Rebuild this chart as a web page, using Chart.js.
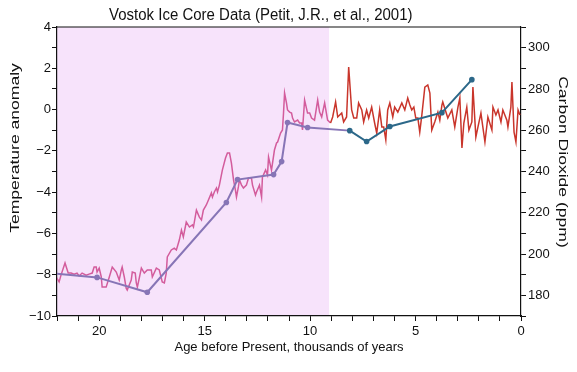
<!DOCTYPE html>
<html>
<head>
<meta charset="utf-8">
<title>Vostok Ice Core Data</title>
<script src="https://cdn.jsdelivr.net/npm/chart.js@4/dist/chart.umd.min.js"></script>
<style>
  html, body { margin: 0; padding: 0; background: #ffffff; }
  canvas { display: block; }
</style>
</head>
<body>
<canvas id="vostokChart" width="577" height="372"></canvas>
<script>
// Temperature anomaly (age in thousands of years, value in degrees)
const tempAge = [
    22.04, 21.90, 21.81, 21.62, 21.47, 21.33, 21.19, 21.05, 20.95, 20.81,
    20.62, 20.48, 20.33, 20.24, 20.14, 20.10, 20.00, 19.90, 19.86, 19.67,
    19.52, 19.38, 19.19, 19.05, 18.95, 18.91, 18.81, 18.72, 18.67, 18.48,
    18.43, 18.29, 18.24, 18.19, 18.00, 17.86, 17.72, 17.53, 17.48, 17.29,
    17.15, 17.01, 16.91, 16.82, 16.77, 16.58, 16.44, 16.34, 16.20, 16.10,
    16.01, 15.87, 15.72, 15.58, 15.53, 15.39, 15.25, 15.15, 15.06, 14.92,
    14.82, 14.68, 14.63, 14.54, 14.44, 14.39, 14.30, 14.16, 14.01, 13.92,
    13.82, 13.73, 13.63, 13.54, 13.49, 13.40, 13.35, 13.25, 13.16, 13.02,
    12.92, 12.78, 12.73, 12.59, 12.54, 12.40, 12.30, 12.26, 12.11, 12.02,
    11.97, 11.83, 11.69, 11.59, 11.54, 11.40, 11.31, 11.26, 11.21, 11.12,
    11.07, 10.97, 10.88, 10.83, 10.74, 10.59, 10.50, 10.40, 10.36, 10.26,
    10.12, 10.02, 9.93, 9.79, 9.64, 9.55, 9.45, 9.31, 9.17, 9.03,
    8.93, 8.79, 8.69, 8.50, 8.41, 8.27, 8.17, 8.03, 7.93, 7.79,
    7.70, 7.55, 7.46, 7.32, 7.22, 7.08, 6.94, 6.84, 6.70, 6.60,
    6.51, 6.41, 6.32, 6.22, 6.08, 5.99, 5.84, 5.65, 5.51, 5.37,
    5.27, 5.18, 5.08, 4.99, 4.89, 4.80, 4.70, 4.56, 4.42, 4.32,
    4.23, 4.09, 3.94, 3.85, 3.75, 3.71, 3.56, 3.47, 3.28, 3.14,
    2.99, 2.90, 2.80, 2.71, 2.57, 2.47, 2.33, 2.28, 2.14, 2.04,
    1.90, 1.81, 1.71, 1.57, 1.38, 1.33, 1.19, 1.09, 0.95, 0.86,
    0.67, 0.62, 0.48, 0.43, 0.33, 0.24, 0.14, 0.05
];
const tempValue = [
    -8.11, -8.35, -8.02, -7.43, -7.92, -7.92, -7.97, -7.92, -8.06, -7.92,
    -8.02, -7.97, -7.92, -7.63, -7.63, -7.87, -7.68, -8.11, -8.60, -8.60,
    -8.11, -7.63, -7.87, -8.26, -7.77, -7.63, -8.11, -8.65, -8.74, -8.26,
    -7.87, -7.92, -8.40, -8.60, -7.68, -7.92, -7.77, -7.77, -8.11, -7.68,
    -7.77, -8.35, -8.40, -7.92, -7.14, -6.80, -6.71, -6.80, -6.32, -5.84,
    -6.17, -5.45, -5.69, -5.59, -5.69, -4.87, -5.21, -5.35, -4.87, -4.62,
    -4.38, -4.04, -4.24, -3.99, -3.80, -3.99, -3.66, -2.93, -2.35, -2.10,
    -2.10, -2.59, -3.41, -3.90, -4.24, -3.75, -3.41, -3.66, -3.80, -3.66,
    -3.32, -3.32, -3.66, -4.14, -3.99, -3.66, -4.24, -3.27, -2.93, -3.17,
    -2.30, -2.93, -1.96, -1.62, -1.57, -1.14, -0.99, -0.17, 0.80, 0.32,
    -0.02, -0.12, -0.17, -0.41, -0.60, -0.51, -0.65, -0.65, -0.99, 0.46,
    -0.17, -0.17, -0.41, -0.51, 0.46, -0.12, -0.36, 0.32, -0.51, -0.65,
    -0.36, 0.37, -0.36, -0.17, -0.60, -0.36, 2.06, -0.02, -0.41, -0.41,
    0.32, -0.02, -0.60, -0.02, -0.41, 0.12, -0.65, -1.14, -0.02, -0.84,
    -0.84, -1.47, -0.02, 0.32, -0.36, 0.12, -0.12, 0.32, -0.02, 0.56,
    0.22, -0.02, 0.12, -0.41, -0.41, -1.09, -0.26, 1.09, 1.19, 0.80,
    -0.99, -0.60, -0.12, -0.51, 0.22, 0.37, -0.12, -0.41, -0.02, -0.84,
    0.12, 0.56, -1.86, -0.65, 0.12, -0.99, -0.60, 1.09, -1.33, -0.84,
    -0.17, -0.84, -1.57, -0.36, -0.99, 0.12, -0.26, -0.02, -0.60, -0.02,
    -0.51, -0.84, 0.12, 1.34, -1.09, -1.57, -0.02, -0.26
];

// Carbon dioxide samples (ppm)
const co2Age = [22.30, 20.10, 17.72, 13.97, 13.44, 11.73, 11.35, 11.07, 10.12, 8.12, 7.32, 6.22, 3.75, 2.33];
const co2Value = [190.8, 188.7, 181.5, 225.0, 236.1, 238.5, 244.8, 263.7, 261.3, 259.8, 254.5, 261.8, 268.5, 284.5];

// Axes and tick labels
const ageMax = 22;
const ageMin = 0;
const shadeEnd = 9.1; // end of the shaded period (ka)
const ageTickLabels = [20, 15, 10, 5, 0];
const tempTickLabels = [-10, -8, -6, -4, -2, 0, 2, 4];
const co2TickLabels = [180, 200, 220, 240, 260, 280, 300];

const chartTitle = 'Vostok Ice Core Data (Petit, J.R., et al., 2001)';
const xTitle = 'Age before Present, thousands of years';
const tempTitle = 'Temperature anomaly';
const co2Title = 'Carbon Dioxide (ppm)';

// Colori
const tempColor = '#c9352b';
const tempShadeColor = '#d35c9c';
const co2Color = '#2c6889';
const co2ShadeColor = '#8775b6';
const shadeColor = '#f7e3fb';
const axisColor = '#111111';
const fontFamily = '"Liberation Sans", Arial, Helvetica, sans-serif';

const tempPoints = tempAge.map((a, i) => ({ x: a, y: tempValue[i] }));
const co2Points = co2Age.map((a, i) => ({ x: a, y: co2Value[i] }));

function minusLabel(v) {
    return v < 0 ? '\u2212' + Math.abs(v) : String(v);
}

// Shading, frame and titles
const vostokPlugin = {
    id: 'vostok',
    beforeDraw(chart) {
        const { ctx, chartArea, scales } = chart;
        const x0 = scales.x.getPixelForValue(ageMax);
        const x1 = scales.x.getPixelForValue(shadeEnd);
        ctx.save();
        ctx.fillStyle = shadeColor;
        ctx.fillRect(x0, chartArea.top, x1 - x0, chartArea.bottom - chartArea.top);
        ctx.restore();
    },
    afterDraw(chart) {
        const { ctx, chartArea } = chart;
        ctx.save();
        // top frame line
        ctx.strokeStyle = axisColor;
        ctx.lineWidth = 1.2;
        ctx.beginPath();
        ctx.moveTo(chartArea.left, chartArea.top);
        ctx.lineTo(chartArea.right, chartArea.top);
        ctx.stroke();

        ctx.fillStyle = axisColor;
        ctx.textAlign = 'center';
        ctx.textBaseline = 'middle';

        // main title
        ctx.font = '15px ' + fontFamily;
        ctx.save();
        ctx.translate(chart.width * 0.452, 15);
        ctx.scale(1, 1.1);
        ctx.fillText(chartTitle, 0, 0);
        ctx.restore();

        // left axis title
        ctx.font = '13px ' + fontFamily;
        ctx.save();
        ctx.translate(15, chartArea.top + 121);
        ctx.rotate(-Math.PI / 2);
        ctx.scale(1.35, 1);
        ctx.fillText(tempTitle, 0, 0);
        ctx.restore();

        // right axis title
        ctx.save();
        ctx.translate(chart.width - 14, chartArea.top + 135);
        ctx.rotate(Math.PI / 2);
        ctx.scale(1.35, 1);
        ctx.fillText(co2Title, 0, 0);
        ctx.restore();

        ctx.restore();
    }
};

const axisGrid = {
    display: true,
    drawOnChartArea: false,
    drawTicks: true,
    tickLength: 5,
    color: axisColor,
    lineWidth: 1
};
const axisBorder = { display: true, color: axisColor, width: 1.2 };
const tickFont = { family: fontFamily, size: 13 };

const ctx = document.getElementById('vostokChart').getContext('2d');

let chart = new Chart(ctx, {
    type: 'line',
    data: {
        datasets: [{
            label: co2Title,
            data: co2Points,
            yAxisID: 'y1',
            borderColor: co2Color,
            borderWidth: 2,
            pointRadius: 2.8,
            pointBorderWidth: 0,
            pointBackgroundColor: (c) => (c.raw && c.raw.x > shadeEnd ? co2ShadeColor : co2Color),
            segment: {
                borderColor: (c) => (c.p0.parsed.x > shadeEnd ? co2ShadeColor : co2Color)
            },
            tension: 0
        }, {
            label: tempTitle,
            data: tempPoints,
            yAxisID: 'y',
            borderColor: tempColor,
            borderWidth: 1.5,
            pointRadius: 0,
            segment: {
                borderColor: (c) => (c.p0.parsed.x > shadeEnd ? tempShadeColor : tempColor)
            },
            tension: 0
        }]
    },
    options: {
        responsive: false,
        animation: false,
        layout: { padding: { top: 27, left: 0, right: 0, bottom: 0 } },
        plugins: {
            legend: { display: false },
            title: { display: false },
            tooltip: { enabled: false }
        },
        scales: {
            x: {
                type: 'linear',
                reverse: true,
                min: ageMin,
                max: ageMax,
                afterFit: (s) => { s.height = 56; },
                grid: axisGrid,
                border: axisBorder,
                ticks: {
                    stepSize: 1,
                    autoSkip: false,
                    maxRotation: 0,
                    padding: 3,
                    color: axisColor,
                    font: tickFont,
                    callback: (v) => (ageTickLabels.includes(v) ? String(v) : '')
                },
                title: {
                    display: true,
                    text: xTitle,
                    color: axisColor,
                    font: { family: fontFamily, size: 13 },
                    padding: { top: 4, bottom: 17 }
                }
            },
            y: {
                type: 'linear',
                position: 'left',
                min: -10,
                max: 4,
                afterFit: (s) => { s.width = 57; },
                grid: axisGrid,
                border: axisBorder,
                ticks: {
                    stepSize: 1,
                    autoSkip: false,
                    padding: 1,
                    color: axisColor,
                    font: tickFont,
                    callback: (v) => (tempTickLabels.includes(v) ? minusLabel(v) : '')
                }
            },
            y1: {
                type: 'linear',
                position: 'right',
                min: 170,
                max: 310,
                afterFit: (s) => { s.width = 56; },
                grid: axisGrid,
                border: axisBorder,
                ticks: {
                    stepSize: 10,
                    autoSkip: false,
                    padding: 2,
                    color: axisColor,
                    font: tickFont,
                    callback: (v) => (co2TickLabels.includes(v) ? String(v) : '')
                }
            }
        }
    },
    plugins: [vostokPlugin]
});
</script>
</body>
</html>
